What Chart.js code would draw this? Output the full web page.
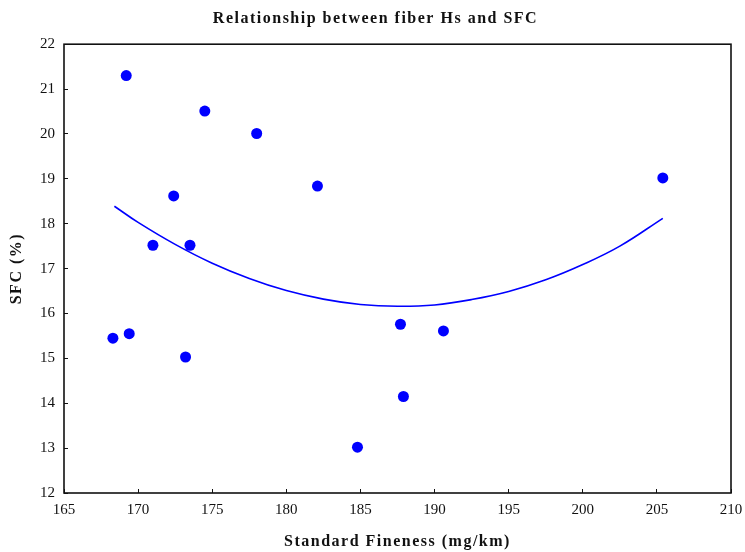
<!DOCTYPE html>
<html>
<head>
<meta charset="utf-8">
<script src="https://cdn.jsdelivr.net/npm/chart.js@4/dist/chart.umd.min.js"></script>
<style>
  body { margin: 0; background: #fff; }
</style>
</head>
<body>
<canvas id="sfcChart" width="745" height="552"></canvas>
<script>
// Scatter data: standard fineness vs SFC
const fineness = [168.3, 169.4, 169.2, 171.0, 172.4, 173.2, 173.5, 174.5, 178.0, 182.1, 184.8, 187.7, 187.9, 190.6, 205.4];
const sfc = [15.45, 15.55, 21.30, 17.52, 18.62, 15.03, 17.52, 20.51, 20.01, 18.84, 13.02, 15.76, 14.15, 15.61, 19.02];

// Fitted curve
const fitX = [168.4, 170, 172.5, 175, 177.5, 180, 182.5, 185, 187.5, 190, 192.5, 195, 197.5, 200, 202.5, 205.4];
const fitY = [18.39, 18.03, 17.54, 17.12, 16.78, 16.51, 16.32, 16.20, 16.16, 16.19, 16.31, 16.49, 16.75, 17.09, 17.50, 18.12];

const xTicks = [165, 170, 175, 180, 185, 190, 195, 200, 205, 210];
const yTicks = [12, 13, 14, 15, 16, 17, 18, 19, 20, 21, 22];

const serif = '"Liberation Serif", "Times New Roman", serif';

// letter spacing for titles only, frame around plot
const framePlugin = {
    id: 'frame',
    beforeDraw(chart) {
        chart.ctx.letterSpacing = '1.5px';
    },
    beforeDatasetsDraw(chart) {
        chart.ctx.letterSpacing = '0px';
    },
    afterDraw(chart) {
        const a = chart.chartArea;
        const ctx = chart.ctx;
        ctx.save();
        ctx.strokeStyle = '#111';
        ctx.lineWidth = 1.6;
        ctx.strokeRect(a.left, a.top, a.right - a.left, a.bottom - a.top);
        ctx.restore();
    }
};

const ctx = document.getElementById('sfcChart').getContext('2d');
new Chart(ctx, {
    type: 'scatter',
    data: {
        datasets: [{
            label: 'SFC',
            data: fineness.map((x, i) => ({ x: x, y: sfc[i] })),
            backgroundColor: '#0000ff',
            borderWidth: 0,
            pointRadius: 5.5
        }, {
            label: 'Fit',
            type: 'line',
            data: fitX.map((x, i) => ({ x: x, y: fitY[i] })),
            borderColor: '#0000ff',
            borderWidth: 1.6,
            pointRadius: 0,
            fill: false,
            tension: 0.4
        }]
    },
    options: {
        responsive: false,
        animation: false,
        layout: { padding: { left: 20, right: 14, top: 0, bottom: 0 } },
        plugins: {
            legend: { display: false },
            tooltip: { enabled: false },
            title: {
                display: true,
                text: 'Relationship between fiber Hs and SFC',
                color: '#111',
                font: { family: serif, size: 16, weight: 'bold' },
                padding: { top: 9, bottom: 16 }
            }
        },
        scales: {
            x: {
                type: 'linear',
                min: 165,
                max: 210,
                afterBuildTicks(scale) { scale.ticks = xTicks.map(v => ({ value: v })); },
                afterFit(scale) {
                    scale.height = 59;
                    scale.paddingLeft = 0;
                    scale.paddingRight = 0;
                },
                grid: { drawOnChartArea: false, tickLength: -4, color: '#111', z: 0 },
                border: { display: false },
                ticks: { color: '#111', padding: 12, z: 1, font: { family: serif, size: 15 } },
                title: {
                    display: true,
                    text: 'Standard Fineness (mg/km)',
                    color: '#111',
                    font: { family: serif, size: 16, weight: 'bold' },
                    padding: { top: 0, bottom: 1 }
                }
            },
            y: {
                type: 'linear',
                min: 12,
                max: 22,
                afterBuildTicks(scale) { scale.ticks = yTicks.map(v => ({ value: v })); },
                afterFit(scale) {
                    scale.width = 44;
                    scale.paddingTop = 0;
                    scale.paddingBottom = 0;
                },
                grid: { drawOnChartArea: false, tickLength: -4, color: '#111', z: 0 },
                border: { display: false },
                ticks: { color: '#111', padding: 13, z: 1, font: { family: serif, size: 15 } },
                title: {
                    display: true,
                    text: 'SFC (%)',
                    color: '#111',
                    font: { family: serif, size: 16, weight: 'bold' },
                    padding: { top: -13, bottom: 0 }
                }
            }
        }
    },
    plugins: [framePlugin]
});
</script>
</body>
</html>
